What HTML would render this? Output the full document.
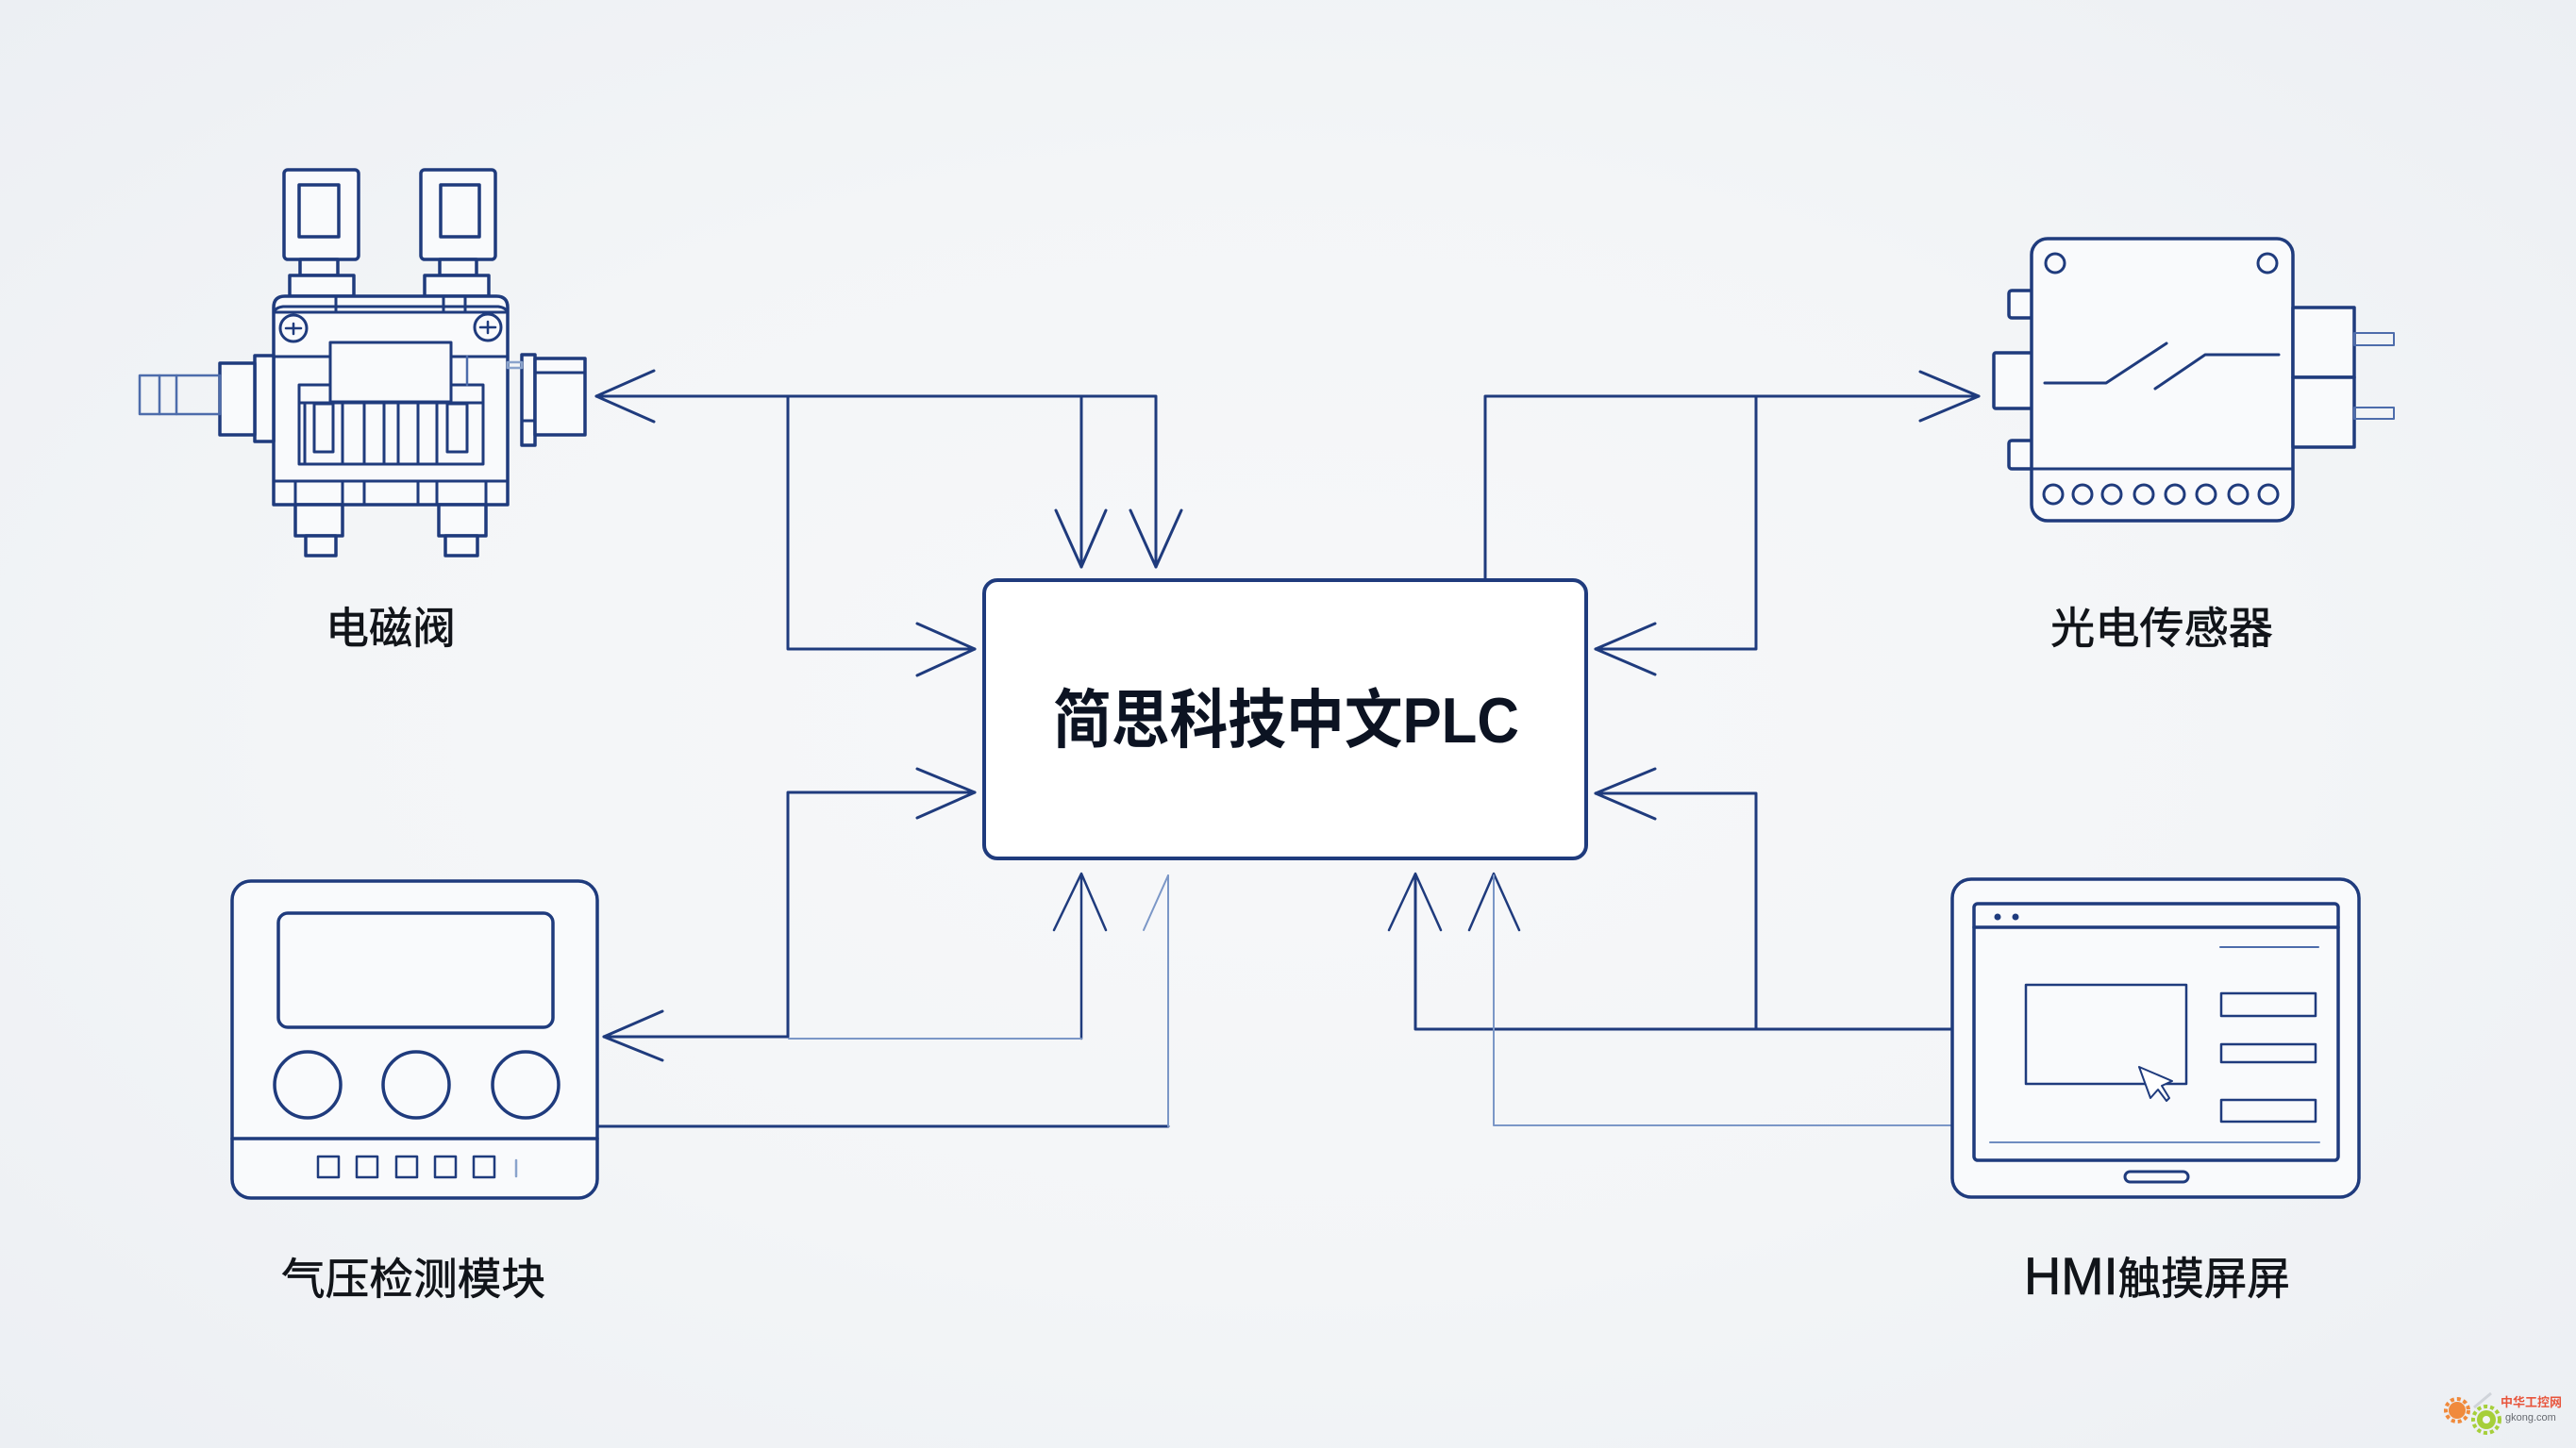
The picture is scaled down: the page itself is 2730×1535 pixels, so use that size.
<!DOCTYPE html>
<html>
<head>
<meta charset="utf-8">
<style>
  html,body{margin:0;padding:0;}
  body{width:2730px;height:1535px;overflow:hidden;
    background: radial-gradient(ellipse at 50% 50%, #f7f8fa 0%, #f3f5f7 55%, #eceff3 100%);}
  svg{display:block;}
  text{font-family:"Liberation Sans","Noto Sans CJK SC",sans-serif;}
</style>
</head>
<body>
<svg width="2730" height="1535" viewBox="0 0 2730 1535" xmlns="http://www.w3.org/2000/svg">
  <g fill="none" stroke="#1f3b7d" stroke-linejoin="round" stroke-linecap="round">

    <!-- ============ CONNECTORS ============ -->
    <g stroke-width="3">
      <polyline points="632,420 1225,420 1225,601"/>
      <line x1="1146" y1="420" x2="1146" y2="601"/>
      <polyline points="835,420 835,688 1033,688"/>
      <polyline points="693,393 632,420 693,447"/>
      <polyline points="1119,541 1146,601 1172,541"/>
      <polyline points="1198,541 1225,601 1252,541"/>
      <polyline points="972,661 1033,688 972,716"/>

      <polyline points="1033,840 835,840 835,1099 640,1099"/>
      <polyline points="972,815 1033,840 972,867"/>
      <polyline points="702,1072 640,1099 702,1124"/>
      <line x1="1146" y1="1101" x2="1146" y2="928" stroke-width="2.5"/>
      <polyline points="1117,986 1146,926 1172,986" stroke-width="2.5"/>
      <line x1="633" y1="1194" x2="1238" y2="1194"/>

      <polyline points="1574,615 1574,420 2097,420"/>
      <polyline points="2035,394 2097,420 2035,446"/>
      <polyline points="1861,420 1861,688 1691,688"/>
      <polyline points="1754,661 1691,688 1754,715"/>

      <polyline points="1691,841 1861,841 1861,1091"/>
      <polyline points="1754,815 1691,841 1754,868"/>
      <polyline points="2069,1091 1500,1091 1500,928"/>
      <polyline points="1472,986 1500,926 1527,986" stroke-width="2.5"/>
      <polyline points="1557,986 1583,926 1610,986" stroke-width="2.5"/>
    </g>
    <g stroke="#7b97c7" stroke-width="2">
      <line x1="836" y1="1101" x2="1146" y2="1101"/>
      <line x1="1238" y1="1194" x2="1238" y2="928"/>
      <line x1="1212" y1="986" x2="1238" y2="928"/>
      <polyline points="2069,1193 1583,1193 1583,928"/>
    </g>

    <!-- ============ PLC BOX ============ -->
    <rect x="1043" y="615" width="638" height="295" rx="14" fill="#ffffff" stroke-width="4"/>

    <!-- ============ SOLENOID VALVE ============ -->
    <g stroke-width="3.5" fill="#f9fafc">
      <rect x="301" y="180" width="79" height="95" rx="4"/>
      <rect x="317" y="196" width="42" height="55"/>
      <rect x="446" y="180" width="79" height="95" rx="4"/>
      <rect x="467" y="196" width="41" height="55"/>
      <rect x="318" y="275" width="40" height="17"/>
      <rect x="466" y="275" width="39" height="17"/>
      <rect x="307" y="292" width="68" height="22"/>
      <rect x="450" y="292" width="68" height="22"/>
      <path d="M290,535 L290,326 Q290,314 302,314 L526,314 Q538,314 538,326 L538,535 Z"/>
      <rect x="270" y="377" width="20" height="91"/>
      <rect x="233" y="385" width="37" height="76"/>
      <rect x="553" y="376" width="14" height="96"/>
      <rect x="567" y="380" width="53" height="81"/>
      <rect x="313" y="535" width="50" height="33"/>
      <rect x="324" y="568" width="32" height="21"/>
      <rect x="465" y="535" width="50" height="33"/>
      <rect x="472" y="568" width="34" height="21"/>
    </g>
    <g stroke-width="3">
      <path d="M290,331 Q292,326 300,325 L528,325 Q536,326 538,331"/>
      <line x1="290" y1="331" x2="538" y2="331"/>
      <line x1="356" y1="314" x2="356" y2="331"/>
      <line x1="470" y1="314" x2="470" y2="331"/>
      <line x1="493" y1="314" x2="493" y2="331"/>
      <circle cx="311" cy="348" r="14"/>
      <circle cx="517" cy="347" r="14"/>
      <path d="M303,348 L319,348 M311,343 L311,354" stroke-width="2.5"/>
      <path d="M509,347 L525,347 M517,341 L517,353" stroke-width="2.5"/>
      <line x1="290" y1="378" x2="350" y2="378"/>
      <line x1="478" y1="378" x2="538" y2="378"/>
      <rect x="317" y="408" width="195" height="84"/>
      <line x1="317" y1="427" x2="512" y2="427"/>
      <rect x="350" y="363" width="128" height="63" fill="#f9fafc"/>
      <line x1="323" y1="427" x2="323" y2="492"/>
      <line x1="363" y1="427" x2="363" y2="492"/>
      <line x1="386" y1="427" x2="386" y2="492"/>
      <line x1="407" y1="427" x2="407" y2="492"/>
      <line x1="422" y1="427" x2="422" y2="492"/>
      <line x1="443" y1="427" x2="443" y2="492"/>
      <line x1="463" y1="427" x2="463" y2="492"/>
      <rect x="333" y="428" width="20" height="51"/>
      <rect x="474" y="428" width="21" height="51"/>
      <line x1="290" y1="510" x2="538" y2="510"/>
      <line x1="313" y1="510" x2="313" y2="535"/>
      <line x1="363" y1="510" x2="363" y2="535"/>
      <line x1="386" y1="510" x2="386" y2="535"/>
      <line x1="443" y1="510" x2="443" y2="535"/>
      <line x1="463" y1="510" x2="463" y2="535"/>
      <line x1="515" y1="510" x2="515" y2="535"/>
      <line x1="553" y1="446" x2="567" y2="446"/>
      <line x1="567" y1="395" x2="620" y2="395"/>
    </g>
    <g stroke="#4d6cab" stroke-width="2.5">
      <rect x="148" y="398" width="85" height="41"/>
      <line x1="169" y1="398" x2="169" y2="439"/>
      <line x1="187" y1="398" x2="187" y2="439"/>
      <line x1="495" y1="378" x2="495" y2="408"/>
      <rect x="538" y="384" width="15" height="6" stroke="#8aa3cc"/>
    </g>

    <!-- ============ PHOTOELECTRIC SENSOR ============ -->
    <g stroke-width="3.5" fill="#f9fafc">
      <rect x="2129" y="308" width="28" height="29" rx="3"/>
      <rect x="2113" y="374" width="44" height="59" rx="2"/>
      <rect x="2129" y="467" width="28" height="30" rx="3"/>
      <rect x="2153" y="253" width="277" height="299" rx="17"/>
      <rect x="2430" y="326" width="65" height="74"/>
      <rect x="2430" y="400" width="65" height="74"/>
    </g>
    <g stroke-width="3">
      <line x1="2153" y1="497" x2="2430" y2="497"/>
      <circle cx="2178" cy="279" r="10"/>
      <circle cx="2403" cy="279" r="10"/>
      <circle cx="2176" cy="524" r="10"/>
      <circle cx="2207" cy="524" r="10"/>
      <circle cx="2238" cy="524" r="10"/>
      <circle cx="2272" cy="524" r="10"/>
      <circle cx="2305" cy="524" r="10"/>
      <circle cx="2338" cy="524" r="10"/>
      <circle cx="2372" cy="524" r="10"/>
      <circle cx="2404" cy="524" r="10"/>
      <polyline points="2167,406 2232,406 2296,364"/>
      <polyline points="2284,412 2337,376 2415,376"/>
    </g>
    <g stroke="#4d6cab" stroke-width="2">
      <rect x="2495" y="353" width="42" height="13"/>
      <rect x="2495" y="432" width="42" height="12"/>
    </g>

    <!-- ============ AIR PRESSURE MODULE ============ -->
    <g stroke-width="3.5">
      <rect x="246" y="934" width="387" height="336" rx="20" fill="#f9fafc"/>
      <rect x="295" y="968" width="291" height="121" rx="10"/>
      <circle cx="326" cy="1150" r="35"/>
      <circle cx="441" cy="1150" r="35"/>
      <circle cx="557" cy="1150" r="35"/>
      <line x1="246" y1="1207" x2="633" y2="1207"/>
    </g>
    <g stroke-width="2.5">
      <rect x="337" y="1226" width="22" height="22"/>
      <rect x="378" y="1226" width="22" height="22"/>
      <rect x="420" y="1226" width="22" height="22"/>
      <rect x="461" y="1226" width="22" height="22"/>
      <rect x="502" y="1226" width="22" height="22"/>
      <line x1="547" y1="1230" x2="547" y2="1247" stroke="#8aa3cc"/>
    </g>

    <!-- ============ HMI ============ -->
    <g stroke-width="3.5">
      <rect x="2069" y="932" width="431" height="337" rx="20" fill="#f9fafc"/>
      <rect x="2092" y="958" width="386" height="272" rx="4"/>
      <line x1="2092" y1="983" x2="2478" y2="983"/>
      <rect x="2252" y="1242" width="67" height="11" rx="5.5" stroke-width="3"/>
    </g>
    <g stroke-width="2.5">
      <rect x="2147" y="1044" width="170" height="105"/>
      <rect x="2354" y="1053" width="100" height="24"/>
      <rect x="2354" y="1107" width="100" height="19"/>
      <rect x="2354" y="1166" width="100" height="23"/>
      <line x1="2353" y1="1004" x2="2457" y2="1004" stroke="#4d6cab" stroke-width="2"/>
      <line x1="2109" y1="1211" x2="2458" y2="1211" stroke="#6f8cc0" stroke-width="2"/>
      <polygon points="2267,1131 2302,1146 2291,1151 2299,1164 2296,1167 2287,1155 2279,1164" fill="#ffffff" stroke-width="2"/>
    </g>
    <circle cx="2117" cy="972" r="3.5" fill="#1f3b7d" stroke="none"/>
    <circle cx="2136" cy="972" r="3.5" fill="#1f3b7d" stroke="none"/>
  </g>

  <!-- ============ TEXT ============ -->
  <text x="1116" y="787" font-size="68" font-weight="bold" fill="#0c1322" textLength="494" lengthAdjust="spacingAndGlyphs">简思科技中文PLC</text>

  <g fill="#111419" stroke="#111419" stroke-width="0.7">
    <text x="345" y="682" font-size="46" textLength="138" lengthAdjust="spacingAndGlyphs">电磁阀</text>
    <text x="2173" y="682" font-size="46" textLength="236" lengthAdjust="spacingAndGlyphs">光电传感器</text>
    <text x="298" y="1372" font-size="46" textLength="280" lengthAdjust="spacingAndGlyphs">气压检测模块</text>
    <text x="2145" y="1372" font-size="47" textLength="282" lengthAdjust="spacingAndGlyphs"><tspan font-size="56">HMI</tspan>触摸屏屏</text>
  </g>

  <!-- ============ WATERMARK ============ -->
  <g>
    <circle cx="2604" cy="1495" r="9" fill="#f08a3c"/>
    <circle cx="2604" cy="1495" r="12" fill="none" stroke="#f08a3c" stroke-width="4" stroke-dasharray="4 3"/>
    <circle cx="2635" cy="1505" r="10" fill="#a6cf3a"/>
    <circle cx="2635" cy="1505" r="14" fill="none" stroke="#a6cf3a" stroke-width="4" stroke-dasharray="4 3"/>
    <circle cx="2635" cy="1505" r="4" fill="#f4f6f8"/>
    <line x1="2622" y1="1492" x2="2640" y2="1477" stroke="#d0d4da" stroke-width="3"/>
    <text x="2650" y="1491" font-size="13" font-weight="bold" fill="#e8553c">中华工控网</text>
    <text x="2655" y="1506" font-size="11" fill="#666a70">gkong.com</text>
  </g>
</svg>
</body>
</html>
